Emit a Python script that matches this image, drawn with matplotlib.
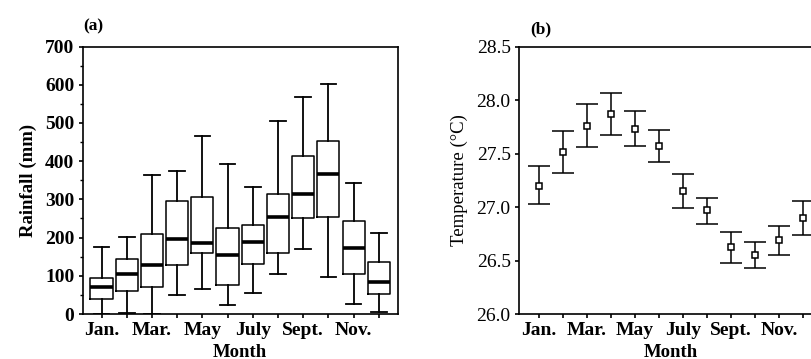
import matplotlib.pyplot as plt
import numpy as np
from matplotlib.ticker import MultipleLocator

# Data
months = ['Jan.', 'Feb.', 'Mar.', 'Apr.', 'May', 'June', 'July', 'Aug.', 'Sept.', 'Oct.', 'Nov.', 'Dec.']
shown_labels = ['Jan.', '', 'Mar.', '', 'May', '', 'July', '', 'Sept.', '', 'Nov.', '']

# (a) rainfall box plot stats (mm)
rain_whislo = [0, 2, 0, 49, 65, 23, 56, 105, 171, 96, 26, 4]
rain_q1 = [38, 59, 72, 127, 159, 75, 131, 159, 252, 254, 106, 52]
rain_med = [70, 105, 128, 197, 185, 154, 188, 254, 315, 366, 172, 85]
rain_q3 = [95, 145, 209, 297, 307, 226, 233, 313, 414, 452, 244, 136]
rain_whishi = [176, 201, 365, 375, 466, 393, 333, 506, 567, 602, 344, 211]

# (b) temperature mean and range (deg C)
temp_mean = [27.20, 27.51, 27.76, 27.87, 27.73, 27.57, 27.15, 26.97, 26.63, 26.55, 26.69, 26.90]
temp_low = [27.03, 27.32, 27.56, 27.67, 27.57, 27.42, 26.99, 26.84, 26.48, 26.43, 26.55, 26.74]
temp_high = [27.38, 27.71, 27.96, 28.07, 27.90, 27.72, 27.31, 27.08, 26.77, 26.67, 26.82, 27.06]

plt.rcParams['font.family'] = ['Liberation Serif', 'DejaVu Serif']
plt.rcParams['font.size'] = 13
plt.rcParams['xtick.labelsize'] = 14
plt.rcParams['ytick.labelsize'] = 14

fig = plt.figure(figsize=(8.12, 3.59), dpi=100)
x = np.arange(1, 13)

# ---- (a) ----
ax1 = fig.add_axes([0.1018, 0.1253, 0.388, 0.745])
stats = []
for i in range(12):
    stats.append({'whislo': rain_whislo[i], 'q1': rain_q1[i], 'med': rain_med[i],
                  'q3': rain_q3[i], 'whishi': rain_whishi[i], 'fliers': []})
ax1.bxp(stats, positions=x, widths=0.88, capwidths=0.62, showfliers=False,
        boxprops=dict(color='black', linewidth=1.1),
        whiskerprops=dict(color='black', linewidth=1.3),
        capprops=dict(color='black', linewidth=1.3),
        medianprops=dict(color='black', linewidth=2.6))
ax1.set_xlim(0.25, 12.75)
ax1.set_ylim(0, 700)
ax1.set_xticks(x)
ax1.set_xticklabels(shown_labels, fontweight='bold')
ax1.yaxis.set_major_locator(MultipleLocator(100))
ax1.yaxis.set_minor_locator(MultipleLocator(50))
for lab in ax1.get_yticklabels():
    lab.set_fontweight('bold')
ax1.tick_params(axis='both', which='major', length=3, width=1.2, pad=3)
ax1.tick_params(axis='y', which='minor', length=2, width=1)
ax1.set_ylabel('Rainfall (mm)', fontweight='bold', fontsize=13.5, labelpad=6)
ax1.set_xlabel('Month', fontweight='bold', fontsize=13.5, labelpad=3)
for s in ax1.spines.values():
    s.set_linewidth(1.2)
ax1.text(0.102, 0.915, '(a)', transform=fig.transFigure, fontweight='bold', fontsize=12.5)

# ---- (b) ----
ax2 = fig.add_axes([0.6392, 0.1253, 0.3741, 0.745])
yerr = [np.array(temp_mean) - np.array(temp_low), np.array(temp_high) - np.array(temp_mean)]
ax2.errorbar(x, temp_mean, yerr=yerr, fmt='s', ms=5, mfc='white', mec='black', mew=1.1,
             ecolor='black', elinewidth=1.1, capsize=8, capthick=1.4)
ax2.set_xlim(0.17, 12.83)
ax2.set_ylim(26.0, 28.5)
ax2.set_xticks(x)
ax2.set_xticklabels(shown_labels, fontweight='bold')
ax2.set_yticks([26.0, 26.5, 27.0, 27.5, 28.0, 28.5])
ax2.set_yticklabels(['26.0', '26.5', '27.0', '27.5', '28.0', '28.5'])
ax2.tick_params(axis='both', which='major', length=3, width=1.2, pad=3)
ax2.set_ylabel('Temperature (\u00b0C)', fontsize=13.5, labelpad=6)
ax2.set_xlabel('Month', fontweight='bold', fontsize=13.5, labelpad=3)
for s in ax2.spines.values():
    s.set_linewidth(1.2)
ax2.text(0.653, 0.908, '(b)', transform=fig.transFigure, fontweight='bold', fontsize=12.5)

fig.savefig('out.png', dpi=100)
